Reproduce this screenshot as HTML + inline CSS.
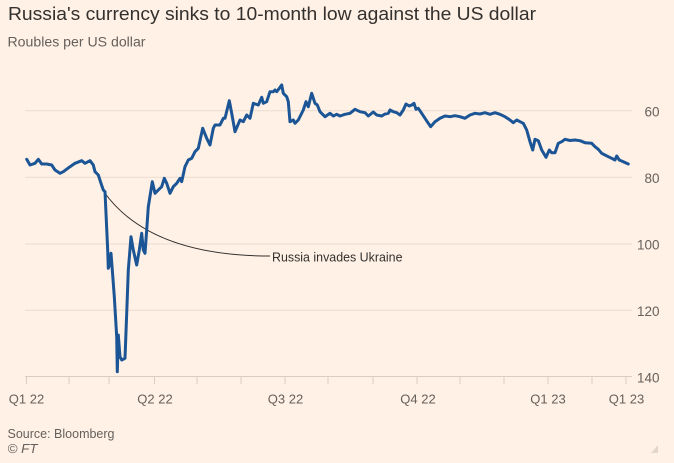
<!DOCTYPE html>
<html>
<head>
<meta charset="utf-8">
<style>
html,body{margin:0;padding:0;background:#fff1e5;}
body{width:674px;height:463px;overflow:hidden;}
svg{display:block;}
text{font-family:"Liberation Sans",sans-serif;}
</style>
</head>
<body>
<svg width="674" height="463" viewBox="0 0 674 463" xmlns="http://www.w3.org/2000/svg">
<rect x="0" y="0" width="674" height="463" fill="#fff1e5"/>
<text x="8" y="20" font-size="18.5" fill="#33302e" textLength="528" lengthAdjust="spacingAndGlyphs">Russia's currency sinks to 10-month low against the US dollar</text>
<text x="7.5" y="46.7" font-size="13.5" fill="#66605c" textLength="138" lengthAdjust="spacingAndGlyphs">Roubles per US dollar</text>

<!-- gridlines -->
<g stroke="#eadccf" stroke-width="1">
<line x1="25" y1="110.7" x2="632" y2="110.7"/>
<line x1="25" y1="177.3" x2="632" y2="177.3"/>
<line x1="25" y1="244" x2="632" y2="244"/>
<line x1="25" y1="310.3" x2="632" y2="310.3"/>
</g>
<!-- axis -->
<g stroke="#dacdc1" stroke-width="1">
<line x1="25" y1="376.5" x2="632" y2="376.5"/>
<line x1="26.5" y1="376.5" x2="26.5" y2="384"/>
<line x1="69" y1="376.5" x2="69" y2="384"/>
<line x1="109" y1="376.5" x2="109" y2="384"/>
<line x1="154.5" y1="376.5" x2="154.5" y2="384"/>
<line x1="197" y1="376.5" x2="197" y2="384"/>
<line x1="241" y1="376.5" x2="241" y2="384"/>
<line x1="285" y1="376.5" x2="285" y2="384"/>
<line x1="328" y1="376.5" x2="328" y2="384"/>
<line x1="373" y1="376.5" x2="373" y2="384"/>
<line x1="417" y1="376.5" x2="417" y2="384"/>
<line x1="460" y1="376.5" x2="460" y2="384"/>
<line x1="504" y1="376.5" x2="504" y2="384"/>
<line x1="548" y1="376.5" x2="548" y2="384"/>
<line x1="592" y1="376.5" x2="592" y2="384"/>
<line x1="626" y1="376.5" x2="626" y2="384"/>
</g>

<!-- y labels -->
<g font-size="13.5" fill="#66605c" text-anchor="end">
<text x="659.5" y="116.5">60</text>
<text x="659.5" y="183">80</text>
<text x="659.5" y="249.5">100</text>
<text x="659.5" y="316">120</text>
<text x="659.5" y="382.5">140</text>
</g>

<!-- x labels -->
<g font-size="13" fill="#66605c" text-anchor="middle">
<text x="26.5" y="403.5">Q1 22</text>
<text x="155" y="403.5">Q2 22</text>
<text x="285.5" y="403.5">Q3 22</text>
<text x="418" y="403.5">Q4 22</text>
<text x="548" y="403.5">Q1 23</text>
<text x="626.5" y="403.5">Q1 23</text>
</g>

<!-- annotation -->
<path d="M104,192 Q150,256 270,256" fill="none" stroke="#33302e" stroke-width="1"/>
<text x="272" y="261.7" font-size="13" fill="#33302e" textLength="130.5" lengthAdjust="spacingAndGlyphs">Russia invades Ukraine</text>

<!-- series -->
<polyline fill="none" stroke="#1b5596" stroke-width="3" stroke-linejoin="round" stroke-linecap="round" points="
26.7,159.3 30,165 35,163.3 38.3,159.3 41.7,164 46.7,164 51.7,165 55,170 60,173.3 63.3,171.7 70,166.7 75,163.3 81.7,160.7 85,163.3 90,160.7 93.3,165 95,171.7 98.3,175 101,183.3 103.3,190 105,191.7 107.7,250 108.3,268.3 110,263.3 111,253.3 112.3,270 114.3,296.7 116.7,336.7 117.3,371.7 118.3,335 120,356.7 121.7,360 125,358.3 126.7,313.3 128.3,270 131,236.7 133.3,250 136.7,265 139.3,250 141.7,233.3 143.3,250 145,253.3 146.7,230 148.3,206.7 151,190 152.3,181.7 155,193.3 158.3,190 161.7,186.7 164.3,178.3 166.7,183.3 170,193.3 173.3,186.7 176.7,183.3 180,178.3 181.7,181.7 185,166.7 188.3,160 191.7,158.3 195,151.7 198.3,148.3 202.7,128.3 206.7,138.3 210,145 213.3,128.3 215,125 220,125 223.3,118.3 225,118.3 229.3,100.7 231.7,113.3 235,131.7 240,120 243.3,121.7 246.7,115 250,118.3 253.3,103.3 258.3,105 261.7,97.3 263.3,103.3 266.7,101.7 270,91.7 273.3,91.7 275,90 276.7,91.7 279.3,88.3 281.7,85 283.3,93.3 286.7,96.7 288.3,101.7 290,121.7 293.3,120 295,123.3 298.3,120 303.3,110 306,101.7 308.3,106.7 311.7,93.3 315,103.3 317.3,105 320,111.7 325,116.7 330,113.3 333.3,116 336.7,114.3 340,116 345,114.3 350,113.3 355,109.3 360,111.7 365,112.7 368.3,116 373.3,112 376.7,115 381.7,116 385,114 388.3,113.3 390,110 393.3,111.7 396.7,112.7 400,115 403.3,110 406,104 409.3,106 411.7,105 414,103.3 416,109.3 418.3,108.3 421.7,113.3 425,118.3 428.3,123.3 430.7,126.7 435,121.7 440,118.3 445,116 450,116.7 455,115.7 460,116.7 465,118.3 470,115 475,113.3 480,114 485,112.7 490,114.3 495,112.7 500,114.3 505,116.7 510,120 513.3,122.7 516.7,120 520,121.7 523.3,123.3 526.7,130 530,141.7 532.7,150 535,139.3 538.3,140.7 541.7,150 546,157.3 549.3,150 551.7,152.7 555,152.7 558.3,143.3 561.7,141.7 565,139.3 570,140.5 575,140 580,140.7 585,142.7 591.7,143.3 595,146.7 598.3,149.3 601.7,153.3 605,155 608.3,156.7 611.7,158.3 615,160 616.7,156 619.3,160 623.3,161.7 628.3,164"/>

<!-- footer -->
<text x="7.5" y="438" font-size="13" fill="#66605c" textLength="107" lengthAdjust="spacingAndGlyphs">Source: Bloomberg</text>
<text x="7.5" y="453" font-size="13" font-style="italic" fill="#66605c" textLength="30" lengthAdjust="spacingAndGlyphs">© FT</text>

<polygon points="651,453 658,453 658,445" fill="#e2d7cd"/>
</svg>
</body>
</html>
